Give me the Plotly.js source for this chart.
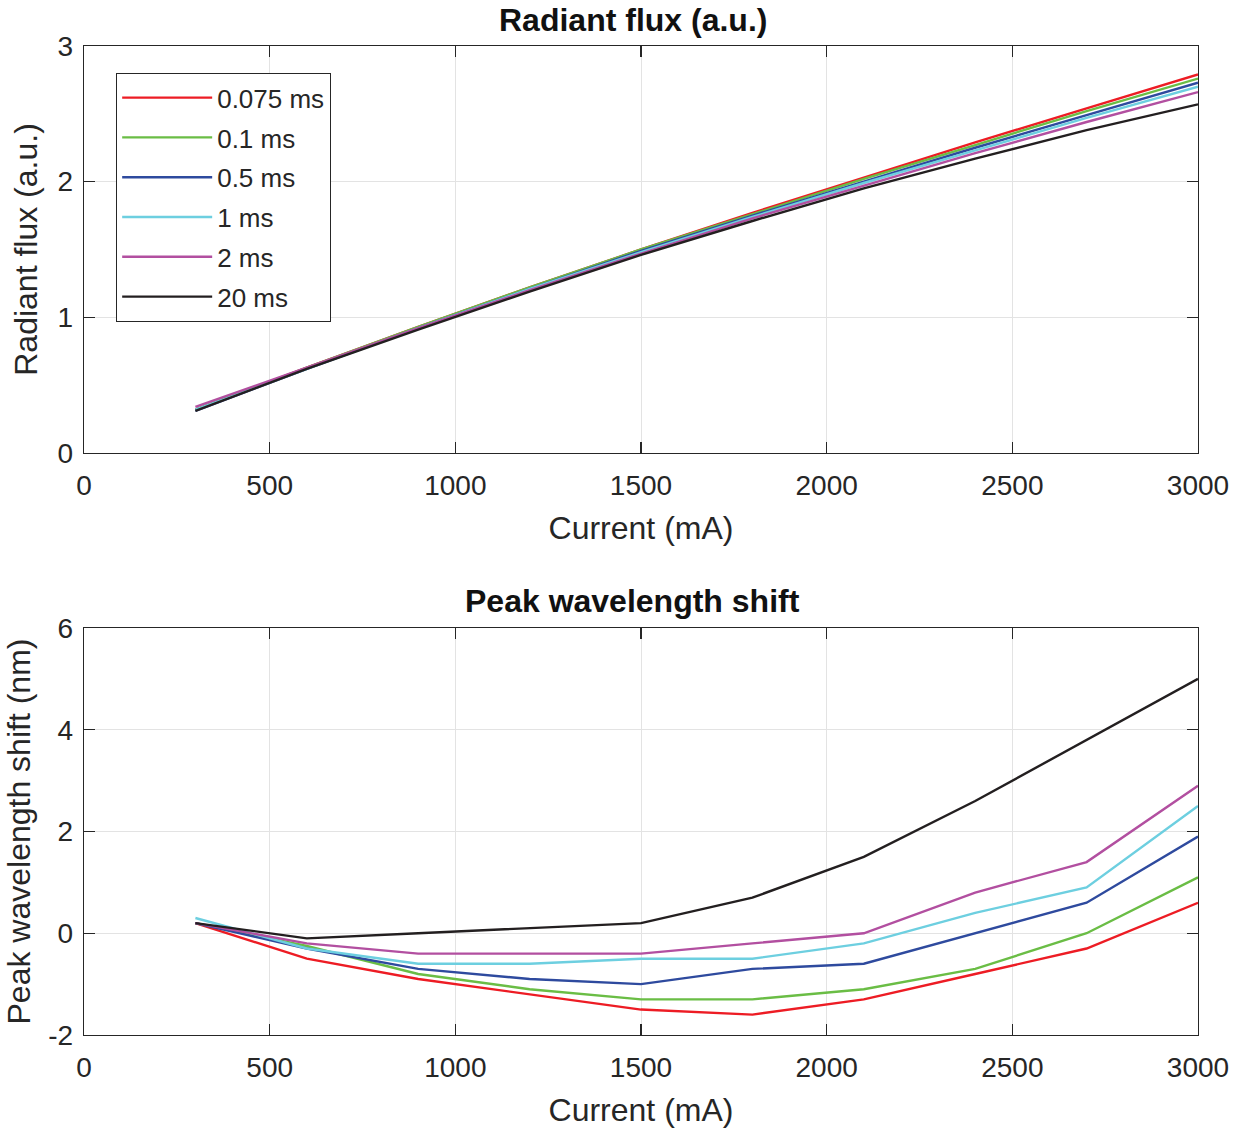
<!DOCTYPE html>
<html>
<head>
<meta charset="utf-8">
<script src="https://cdn.plot.ly/plotly-3.0.1.min.js"></script>
<style>html,body{margin:0;padding:0;background:#fff;}#chart{width:1241px;height:1135px;}</style>
</head>
<body>
<div id="chart"></div>
<script>
// Current (mA)
const current = [300, 600, 900, 1200, 1500, 1800, 2100, 2400, 2700, 3000];
const seriesNames = ["0.075 ms", "0.1 ms", "0.5 ms", "1 ms", "2 ms", "20 ms"];
const seriesColors = ["#ED1C24", "#6ABD45", "#2E4A9E", "#6DCFE0", "#B24FA0", "#231F20"];

// Radiant flux (a.u.)
const flux_0075 = [0.32, 0.63, 0.93, 1.22, 1.50, 1.77, 2.03, 2.29, 2.54, 2.79];
const flux_01   = [0.32, 0.63, 0.93, 1.22, 1.50, 1.76, 2.02, 2.27, 2.52, 2.76];
const flux_05   = [0.31, 0.62, 0.92, 1.21, 1.49, 1.75, 2.00, 2.25, 2.49, 2.73];
const flux_1    = [0.32, 0.62, 0.92, 1.21, 1.48, 1.74, 1.99, 2.23, 2.47, 2.70];
const flux_2    = [0.34, 0.63, 0.92, 1.20, 1.47, 1.73, 1.97, 2.21, 2.44, 2.66];
const flux_20   = [0.31, 0.62, 0.91, 1.19, 1.46, 1.71, 1.95, 2.17, 2.38, 2.57];

// Peak wavelength shift (nm)
const shift_0075 = [0.2, -0.5, -0.9, -1.2, -1.5, -1.6, -1.3, -0.8, -0.3, 0.6];
const shift_01   = [0.2, -0.25, -0.8, -1.1, -1.3, -1.3, -1.1, -0.7, 0.0, 1.1];
const shift_05   = [0.2, -0.3, -0.7, -0.9, -1.0, -0.7, -0.6, 0.0, 0.6, 1.9];
const shift_1    = [0.3, -0.3, -0.6, -0.6, -0.5, -0.5, -0.2, 0.4, 0.9, 2.5];
const shift_2    = [0.2, -0.2, -0.4, -0.4, -0.4, -0.2, 0.0, 0.8, 1.4, 2.9];
const shift_20   = [0.2, -0.1, 0.0, 0.1, 0.2, 0.7, 1.5, 2.6, 3.8, 5.0];

// Tick labels
const xTicks = [0, 500, 1000, 1500, 2000, 2500, 3000];
const xTickText = ["0", "500", "1000", "1500", "2000", "2500", "3000"];
const fluxTicks = [0, 1, 2, 3];
const fluxTickText = ["0", "1", "2", "3"];
const shiftTicks = [-2, 0, 2, 4, 6];
const shiftTickText = ["-2", "0", "2", "4", "6"];

const fluxSeries = [flux_0075, flux_01, flux_05, flux_1, flux_2, flux_20];
const shiftSeries = [shift_0075, shift_01, shift_05, shift_1, shift_2, shift_20];

const FONT = '"Liberation Sans", Arial, Helvetica, sans-serif';
const AX = '#262626';
const GRID = '#E3E3E3';

const traces = [];
fluxSeries.forEach((ys, i) => {
  traces.push({x: current, y: ys, type: 'scatter', mode: 'lines', name: seriesNames[i],
    legendgroup: 'g' + i,
    line: {color: seriesColors[i], width: 2.4}, xaxis: 'x', yaxis: 'y', showlegend: true});
});
shiftSeries.forEach((ys, i) => {
  traces.push({x: current, y: ys, type: 'scatter', mode: 'lines', name: seriesNames[i],
    legendgroup: 'g' + i,
    line: {color: seriesColors[i], width: 2.4}, xaxis: 'x2', yaxis: 'y2', showlegend: false});
});

function xAxis(anchor) {
  return {
    anchor: anchor, domain: [0, 1], range: [0, 3000],
    tickvals: xTicks, ticktext: xTickText,
    ticks: 'inside', ticklen: 11, tickwidth: 1.2, tickcolor: AX,
    showline: true, linecolor: AX, linewidth: 1.3, mirror: 'ticks',
    showgrid: true, gridcolor: GRID, gridwidth: 1, zeroline: false,
    tickfont: {family: FONT, size: 28, color: AX}, ticklabelstandoff: 7,
    title: {text: 'Current (mA)', font: {family: FONT, size: 32, color: AX}, standoff: 16}
  };
}
function yAxis(anchor, domain, range, tv, tt, label, standoff) {
  return {
    anchor: anchor, domain: domain, range: range,
    tickvals: tv, ticktext: tt,
    ticks: 'inside', ticklen: 11, tickwidth: 1.2, tickcolor: AX,
    showline: true, linecolor: AX, linewidth: 1.3, mirror: 'ticks',
    showgrid: true, gridcolor: GRID, gridwidth: 1, zeroline: false,
    tickfont: {family: FONT, size: 28, color: AX}, ticklabelstandoff: 4,
    title: {text: label, font: {family: FONT, size: 32, color: AX}, standoff: standoff}
  };
}

const layout = {
  width: 1241, height: 1135,
  margin: {l: 84, r: 43, t: 46, b: 100},
  paper_bgcolor: '#ffffff', plot_bgcolor: '#ffffff',
  font: {family: FONT, color: AX},
  xaxis: xAxis('y'),
  yaxis: yAxis('x', [0.5885, 1], [0, 3], fluxTicks, fluxTickText, 'Radiant flux (a.u.)', 10),
  xaxis2: xAxis('y2'),
  yaxis2: yAxis('x2', [0, 0.4115], [-2, 6], shiftTicks, shiftTickText, 'Peak wavelength shift (nm)', 8),
  showlegend: true,
  legend: {
    x: 0.0287, y: 0.9727, xanchor: 'left', yanchor: 'top',
    bgcolor: '#ffffff', bordercolor: AX, borderwidth: 1.2,
    font: {family: FONT, size: 26, color: AX},
    itemwidth: 90, tracegroupgap: 3, groupclick: 'toggleitem'
  },
  annotations: [
    {text: '<b>Radiant flux (a.u.)</b>', xref: 'paper', yref: 'paper', x: 0.5, y: 1, yshift: 26, xshift: -8,
      xanchor: 'center', yanchor: 'middle', showarrow: false, font: {family: FONT, size: 32, color: '#111'}},
    {text: '<b>Peak wavelength shift</b>', xref: 'paper', yref: 'paper', x: 0.5, y: 0.4115, yshift: 27, xshift: -9,
      xanchor: 'center', yanchor: 'middle', showarrow: false, font: {family: FONT, size: 32, color: '#111'}}
  ]
};

Plotly.newPlot('chart', traces, layout, {displayModeBar: false, staticPlot: true});
</script>
</body>
</html>
